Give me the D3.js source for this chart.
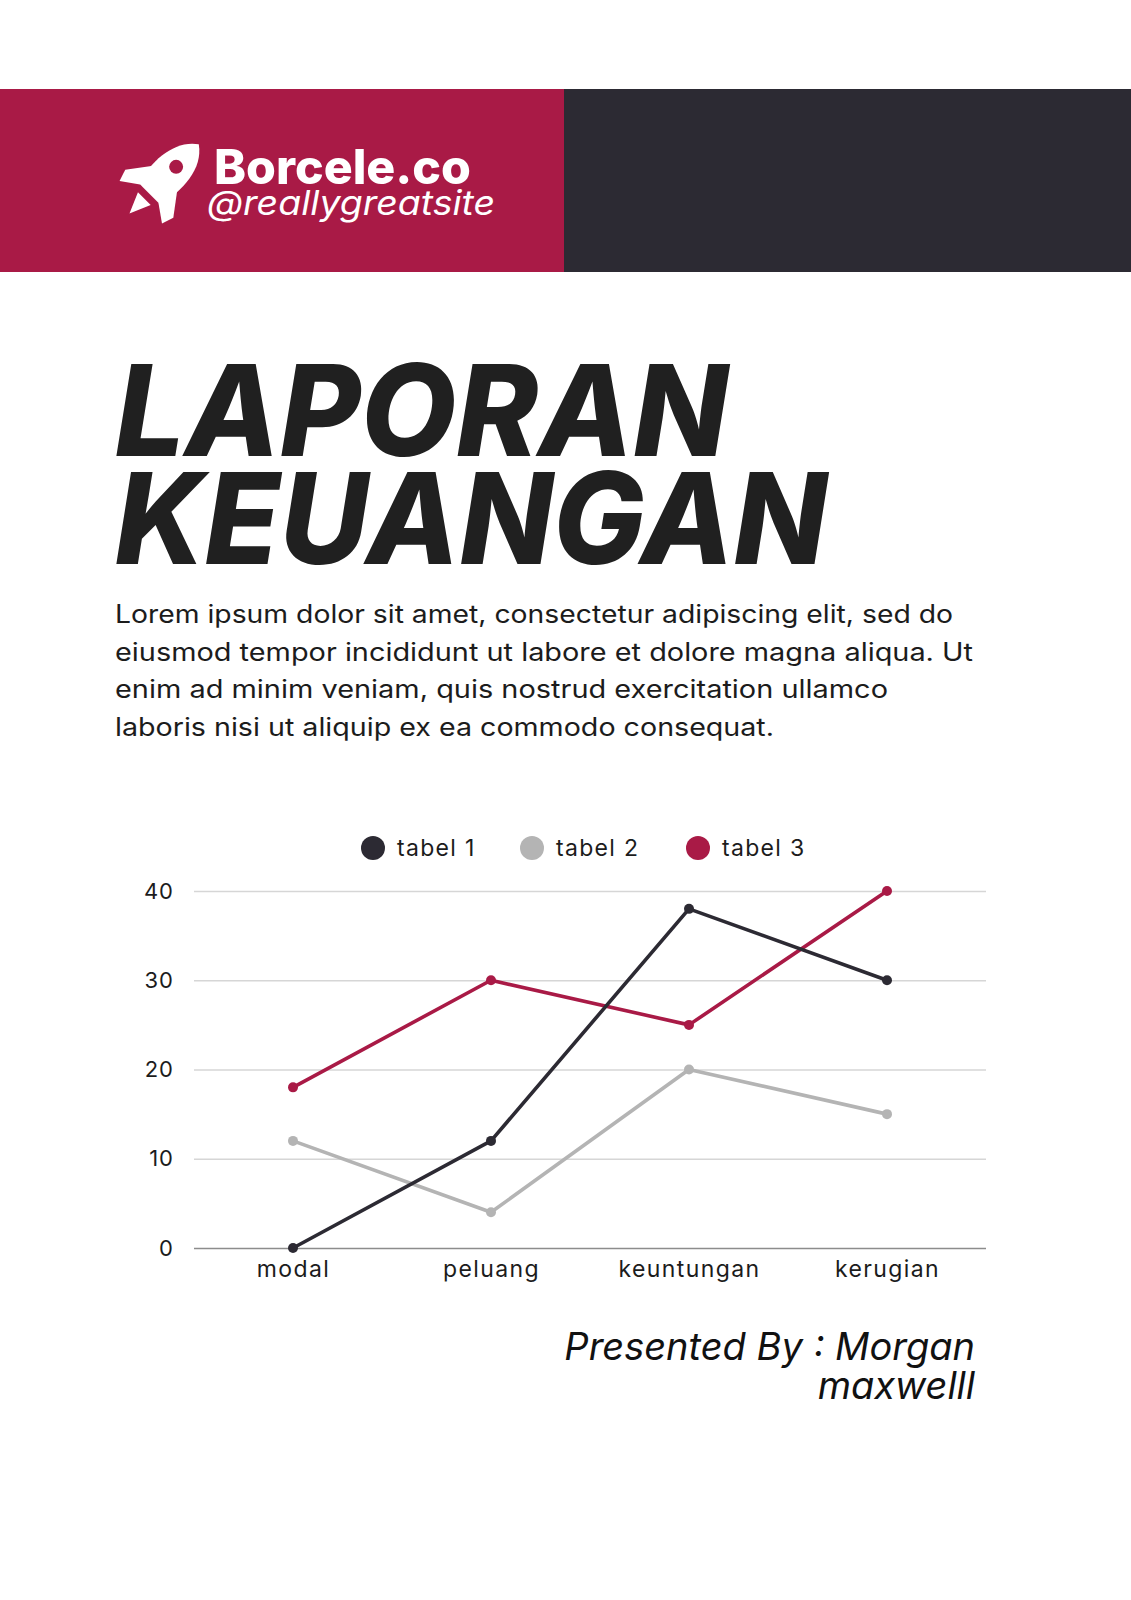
<!DOCTYPE html>
<html>
    <head>
        <meta charset="utf-8" />
        <script src="https://d3js.org/d3.v7.min.js"></script>
        <style type="text/css">
            body {
                margin: 0;
                background: #ffffff;
            }
            svg#mainSvg {
                display: block;
            }
        </style>
    </head>

    <body>
        <svg id="mainSvg" width="1131" height="1600"></svg>

        <script type="text/javascript">
            // Chart data
            const categories = ["modal", "peluang", "keuntungan", "kerugian"];
            const seriesNames = ["tabel 1", "tabel 2", "tabel 3"];
            const tabel1 = [0, 12, 38, 30];
            const tabel2 = [12, 4, 20, 15];
            const tabel3 = [18, 30, 25, 40];
            const yTicks = [0, 10, 20, 30, 40];

            const paragraph = [
                "Lorem ipsum dolor sit amet, consectetur adipiscing elit, sed do",
                "eiusmod tempor incididunt ut labore et dolore magna aliqua. Ut",
                "enim ad minim veniam, quis nostrud exercitation ullamco",
                "laboris nisi ut aliquip ex ea commodo consequat.",
            ];
            const paraWidths = [838, 858, 773, 659];
        </script>

        <script type="text/javascript">
            const width = 1131,
                height = 1600;
            const red = "#a91a46",
                dark = "#2c2a33",
                grey = "#b4b4b4";
            const font = "Inter, 'Open Sans', sans-serif";

            const svg = d3.select("#mainSvg");

            // Header bands
            svg.append("rect")
                .attr("x", 0).attr("y", 89)
                .attr("width", 564).attr("height", 183)
                .attr("fill", red);
            svg.append("rect")
                .attr("x", 564).attr("y", 89)
                .attr("width", width - 564).attr("height", 183)
                .attr("fill", dark);

            // Rocket logo, drawn pointing up then turned 45deg
            const rocket = svg.append("g")
                .attr("transform", "translate(162,181) rotate(45)");
            rocket.append("path")
                .attr("d", "M0,-52 C20,-38 22,-8 15,18 L-15,18 C-22,-8 -20,-38 0,-52 Z")
                .attr("fill", "#fff");
            rocket.append("path")
                .attr("d", "M-16,-6 L-34,18 L-30,30 L-13,18 Z")
                .attr("fill", "#fff");
            rocket.append("path")
                .attr("d", "M16,-6 L34,18 L30,30 L13,18 Z")
                .attr("fill", "#fff");
            rocket.append("circle")
                .attr("cx", 0).attr("cy", -20).attr("r", 7)
                .attr("fill", red);
            rocket.append("path")
                .attr("d", "M-9,25 L9,25 L0,46 Z")
                .attr("fill", "#fff");

            svg.append("text")
                .attr("x", 214).attr("y", 184)
                .attr("textLength", 257).attr("lengthAdjust", "spacingAndGlyphs")
                .style("font-family", font)
                .style("font-weight", 800)
                .style("font-size", "48px")
                .attr("fill", "#fff")
                .text("Borcele.co");
            svg.append("text")
                .attr("x", 207).attr("y", 215)
                .attr("textLength", 288).attr("lengthAdjust", "spacingAndGlyphs")
                .style("font-family", font)
                .style("font-style", "italic")
                .style("font-weight", 400)
                .style("font-size", "34px")
                .attr("fill", "#fff")
                .text("@reallygreatsite");

            // Title
            const titleLines = [
                ["LAPORAN", 456, 613],
                ["KEUANGAN", 564, 712],
            ];
            svg.append("g")
                .selectAll("text")
                .data(titleLines)
                .enter()
                .append("text")
                .attr("x", 115)
                .attr("y", (d) => d[1])
                .attr("textLength", (d) => d[2])
                .attr("lengthAdjust", "spacingAndGlyphs")
                .style("font-family", font)
                .style("font-style", "italic")
                .style("font-weight", 800)
                .style("font-size", "127px")
                .attr("fill", "#202020")
                .text((d) => d[0]);

            // Paragraph
            svg.append("g")
                .selectAll("text")
                .data(paragraph)
                .enter()
                .append("text")
                .attr("x", 115)
                .attr("y", (d, i) => 623 + i * 37.7)
                .attr("textLength", (d, i) => paraWidths[i])
                .attr("lengthAdjust", "spacingAndGlyphs")
                .style("font-family", font)
                .style("font-size", "25px")
                .attr("fill", "#1c1c1c")
                .text((d) => d);
        </script>

        <script type="text/javascript">
            // Line chart
            const margin = { left: 194, right: 986, top: 891, bottom: 1248 };
            const x = d3.scalePoint()
                .domain(categories)
                .range([margin.left, margin.right])
                .padding(0.5);
            const y = d3.scaleLinear()
                .domain([0, 40])
                .range([margin.bottom, margin.top]);

            const chart = svg.append("g");

            // Gridlines
            const yAxis = chart.append("g")
                .attr("transform", "translate(" + margin.left + ",0)")
                .call(
                    d3.axisLeft(y)
                        .tickValues(yTicks)
                        .tickSize(-(margin.right - margin.left))
                        .tickPadding(20)
                );
            yAxis.select(".domain").remove();
            yAxis.selectAll(".tick line")
                .attr("stroke", (d) => (d === 0 ? "#8c8c8c" : "#d6d6d6"))
                .attr("stroke-width", 1.3);
            yAxis.selectAll(".tick text")
                .style("font-family", font)
                .style("font-size", "22px")
                .style("letter-spacing", "1px")
                .attr("fill", "#1c1c1c");

            const xAxis = chart.append("g")
                .attr("transform", "translate(0," + margin.bottom + ")")
                .call(d3.axisBottom(x).tickSize(0).tickPadding(13));
            xAxis.select(".domain").remove();
            xAxis.selectAll(".tick text")
                .style("font-family", font)
                .style("font-size", "23px")
                .style("letter-spacing", "1.4px")
                .attr("fill", "#1c1c1c");

            const series = [
                { name: seriesNames[0], values: tabel1, color: dark },
                { name: seriesNames[1], values: tabel2, color: grey },
                { name: seriesNames[2], values: tabel3, color: red },
            ];

            const line = d3.line()
                .x((d, i) => x(categories[i]))
                .y((d) => y(d));

            // Draw lines in order: grey, red, dark on top where they cross
            const drawOrder = [series[1], series[2], series[0]];
            drawOrder.forEach((s) => {
                chart.append("path")
                    .datum(s.values)
                    .attr("d", line)
                    .attr("fill", "none")
                    .attr("stroke", s.color)
                    .attr("stroke-width", 3.6)
                    .attr("stroke-linejoin", "round");
                chart.append("g")
                    .selectAll("circle")
                    .data(s.values)
                    .enter()
                    .append("circle")
                    .attr("cx", (d, i) => x(categories[i]))
                    .attr("cy", (d) => y(d))
                    .attr("r", 5)
                    .attr("fill", s.color);
            });

            // Legend
            const legendX = [373, 532, 698];
            const legend = chart.append("g")
                .selectAll("g")
                .data(series)
                .enter()
                .append("g")
                .attr("transform", (d, i) => "translate(" + legendX[i] + ",848)");
            legend.append("circle")
                .attr("r", 12)
                .attr("fill", (d) => d.color);
            legend.append("text")
                .attr("x", 24)
                .attr("y", 8)
                .style("font-family", font)
                .style("font-size", "23px")
                .style("letter-spacing", "1.3px")
                .attr("fill", "#1c1c1c")
                .text((d) => d.name);

            // Presenter
            const presenter = ["Presented By : Morgan", "maxwelll"];
            svg.append("g")
                .selectAll("text")
                .data(presenter)
                .enter()
                .append("text")
                .attr("x", 975)
                .attr("y", (d, i) => 1360 + i * 39)
                .attr("text-anchor", "end")
                .style("font-family", font)
                .style("font-style", "italic")
                .style("font-size", "38px")
                .attr("fill", "#111")
                .text((d) => d);
        </script>
    </body>
</html>
